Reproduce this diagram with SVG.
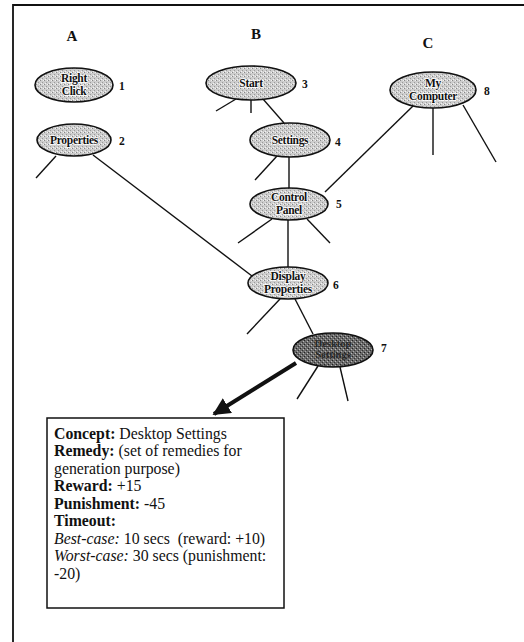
<svg xmlns="http://www.w3.org/2000/svg" width="524" height="642" viewBox="0 0 524 642">
<style>
.frame{fill:none;stroke:#111;stroke-width:1.8}
.node{fill:url(#speck);stroke:#111;stroke-width:1.6}
.dark{fill:url(#speckDark);stroke:#111;stroke-width:1.6}
.nt{font-family:"Liberation Serif",serif;font-weight:bold;font-size:11.5px;fill:#111;text-anchor:middle;stroke:#fff;stroke-width:1.6px;paint-order:stroke;letter-spacing:-0.3px}
.ntd{font-family:"Liberation Serif",serif;font-weight:bold;font-size:10.5px;fill:#2a2a2a;text-anchor:middle}
.num{font-family:"Liberation Serif",serif;font-weight:bold;font-size:11.5px;fill:#111}
.hdr{font-family:"Liberation Serif",serif;font-weight:bold;font-size:15px;fill:#111;text-anchor:middle}
.edge{stroke:#111;stroke-width:1.4;fill:none}
.box{fill:#fff;stroke:#111;stroke-width:1.5}
.bt{font-family:"Liberation Serif",serif;font-size:15.8px;fill:#111}
.b{font-weight:bold}
.i{font-style:italic}
</style>
<defs>
<pattern id="speck" width="4" height="4" patternUnits="userSpaceOnUse">
<rect width="4" height="4" fill="#cdcdcd"/>
<rect x="0" y="0" width="1" height="1" fill="#888"/>
<rect x="2" y="2" width="1" height="1" fill="#999"/>
<rect x="3" y="0" width="1" height="1" fill="#f2f2f2"/>
<rect x="1" y="3" width="1" height="1" fill="#f2f2f2"/>
</pattern>
<pattern id="speckDark" width="4" height="4" patternUnits="userSpaceOnUse">
<rect width="4" height="4" fill="#6a6a6a"/>
<rect x="0" y="0" width="1" height="1" fill="#222"/>
<rect x="2" y="2" width="1" height="1" fill="#333"/>
<rect x="3" y="1" width="1" height="1" fill="#bbb"/>
<rect x="1" y="3" width="1" height="1" fill="#aaa"/>
</pattern>
<marker id="ah" viewBox="0 0 10 10" refX="9" refY="5" markerWidth="4.4" markerHeight="4.4" orient="auto" markerUnits="strokeWidth">
<path d="M0,0 L10,5 L0,10 z" fill="#111"/>
</marker>
</defs>
<rect width="524" height="642" fill="#fff"/>
<path class="frame" d="M13,642 L13,5 L524,5"/>
<text class="hdr" x="72" y="41">A</text>
<text class="hdr" x="256" y="39">B</text>
<text class="hdr" x="428" y="48">C</text>
<g id="connectors">
<line class="edge" x1="56" y1="156" x2="36" y2="178"/>
<line class="edge" x1="93" y1="155" x2="252" y2="276"/>
<line class="edge" x1="236" y1="99" x2="216" y2="111"/>
<line class="edge" x1="251" y1="100" x2="251" y2="113"/>
<line class="edge" x1="263" y1="99" x2="284" y2="123"/>
<line class="edge" x1="277" y1="156" x2="255" y2="180"/>
<line class="edge" x1="289" y1="157" x2="289" y2="188"/>
<line class="edge" x1="413" y1="106" x2="325" y2="192"/>
<line class="edge" x1="433" y1="108" x2="433" y2="155"/>
<line class="edge" x1="463" y1="105" x2="496" y2="162"/>
<line class="edge" x1="272" y1="219" x2="238" y2="243"/>
<line class="edge" x1="288" y1="220" x2="288" y2="267"/>
<line class="edge" x1="307" y1="219" x2="330" y2="243"/>
<line class="edge" x1="280" y1="299" x2="247" y2="334"/>
<line class="edge" x1="295" y1="299" x2="313" y2="334"/>
<line class="edge" x1="318" y1="366" x2="297" y2="399"/>
<line class="edge" x1="340" y1="367" x2="348" y2="401"/>
<line x1="296" y1="363" x2="214" y2="414" stroke="#111" stroke-width="4" marker-end="url(#ah)"/>
</g>
<g id="n1"><ellipse class="node" cx="74" cy="85" rx="39" ry="17"/><text class="nt" x="74" y="82">Right</text><text class="nt" x="74" y="95">Click</text><text class="num" x="119" y="90">1</text></g>
<g id="n2"><ellipse class="node" cx="74" cy="140" rx="37" ry="16"/><text class="nt" x="74" y="144">Properties</text><text class="num" x="119" y="145">2</text></g>
<g id="n3"><ellipse class="node" cx="251" cy="83" rx="45" ry="17"/><text class="nt" x="251" y="87">Start</text><text class="num" x="302" y="88">3</text></g>
<g id="n4"><ellipse class="node" cx="290" cy="140" rx="40" ry="17"/><text class="nt" x="290" y="144">Settings</text><text class="num" x="335" y="146">4</text></g>
<g id="n5"><ellipse class="node" cx="289" cy="204" rx="39" ry="16"/><text class="nt" x="289" y="201">Control</text><text class="nt" x="289" y="214">Panel</text><text class="num" x="336" y="208">5</text></g>
<g id="n6"><ellipse class="node" cx="288" cy="283" rx="40" ry="16"/><text class="nt" x="288" y="280">Display</text><text class="nt" x="288" y="293">Properties</text><text class="num" x="333" y="289">6</text></g>
<g id="n7"><ellipse class="dark" cx="333" cy="350" rx="40" ry="17"/><text class="ntd" x="333" y="347">Desktop</text><text class="ntd" x="333" y="358">Settings</text><text class="num" x="381" y="352">7</text></g>
<g id="n8"><ellipse class="node" cx="433" cy="90" rx="43" ry="18"/><text class="nt" x="433" y="87">My</text><text class="nt" x="433" y="100">Computer</text><text class="num" x="484" y="95">8</text></g>
<g id="concept">
<rect class="box" x="47" y="418" width="237" height="190"/>
<text class="bt" x="54" y="439"><tspan class="b">Concept:</tspan> Desktop Settings</text>
<text class="bt" x="54" y="456"><tspan class="b">Remedy:</tspan> (set of remedies for</text>
<text class="bt" x="54" y="474">generation purpose)</text>
<text class="bt" x="54" y="491"><tspan class="b">Reward:</tspan> +15</text>
<text class="bt" x="54" y="509"><tspan class="b">Punishment:</tspan> -45</text>
<text class="bt b" x="54" y="526">Timeout:</text>
<text class="bt" x="54" y="544" xml:space="preserve"><tspan class="i">Best-case:</tspan> 10 secs  (reward: +10)</text>
<text class="bt" x="54" y="561"><tspan class="i">Worst-case:</tspan> 30 secs (punishment:</text>
<text class="bt" x="54" y="579">-20)</text>
</g>
</svg>
